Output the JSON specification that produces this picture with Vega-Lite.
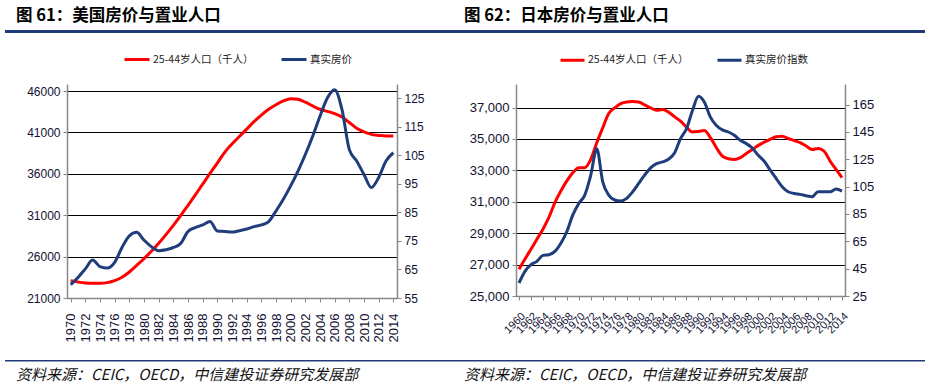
{
  "$schema": "https://vega.github.io/schema/vega-lite/v6.json",
  "padding": {"left": 5, "top": 7, "right": 0, "bottom": 0},
  "background": "white",
  "config": {
    "font": "Liberation Sans",
    "view": {"stroke": null},
    "axis": {"labelColor": "#111133", "domainColor": "#888888", "tickColor": "#888888", "domainWidth": 1.5, "title": null}
  },
  "datasets": {
    "us": [
      {"year": 1970, "pop": 23100, "price": 59.7}, {"year": 1971, "pop": 22930, "price": 62.2}, {"year": 1972, "pop": 22810, "price": 65.2},
      {"year": 1973, "pop": 22780, "price": 68.3}, {"year": 1974, "pop": 22780, "price": 66.0}, {"year": 1975, "pop": 22860, "price": 65.5},
      {"year": 1976, "pop": 23100, "price": 67.5}, {"year": 1977, "pop": 23500, "price": 72.7}, {"year": 1978, "pop": 24140, "price": 76.8},
      {"year": 1979, "pop": 24950, "price": 78.0}, {"year": 1980, "pop": 25760, "price": 75.3}, {"year": 1981, "pop": 26640, "price": 73.0},
      {"year": 1982, "pop": 27610, "price": 71.6}, {"year": 1983, "pop": 28660, "price": 71.9}, {"year": 1984, "pop": 29780, "price": 72.7},
      {"year": 1985, "pop": 30950, "price": 74.1}, {"year": 1986, "pop": 32200, "price": 78.3}, {"year": 1987, "pop": 33450, "price": 79.7},
      {"year": 1988, "pop": 34750, "price": 80.6}, {"year": 1989, "pop": 36050, "price": 81.8}, {"year": 1990, "pop": 37300, "price": 78.5},
      {"year": 1991, "pop": 38600, "price": 78.3}, {"year": 1992, "pop": 39600, "price": 78.1}, {"year": 1993, "pop": 40500, "price": 78.6},
      {"year": 1994, "pop": 41400, "price": 79.2}, {"year": 1995, "pop": 42300, "price": 80.0}, {"year": 1996, "pop": 43100, "price": 80.6},
      {"year": 1997, "pop": 43800, "price": 81.8}, {"year": 1998, "pop": 44350, "price": 85.5}, {"year": 1999, "pop": 44800, "price": 89.6},
      {"year": 2000, "pop": 45080, "price": 94.3}, {"year": 2001, "pop": 45000, "price": 99.5}, {"year": 2002, "pop": 44650, "price": 105.3},
      {"year": 2003, "pop": 44200, "price": 111.7}, {"year": 2004, "pop": 43800, "price": 118.7}, {"year": 2005, "pop": 43550, "price": 125.1},
      {"year": 2006, "pop": 43280, "price": 128.0}, {"year": 2007, "pop": 42870, "price": 121.0}, {"year": 2008, "pop": 42200, "price": 107.0},
      {"year": 2009, "pop": 41500, "price": 103.0}, {"year": 2010, "pop": 41070, "price": 98.3}, {"year": 2011, "pop": 40760, "price": 93.7},
      {"year": 2012, "pop": 40640, "price": 97.2}, {"year": 2013, "pop": 40560, "price": 103.0}, {"year": 2014, "pop": 40560, "price": 105.9}
    ],
    "jp": [
      {"year": 1960, "pop": 26710, "price": 34.5}, {"year": 1961, "pop": 27350, "price": 43.0}, {"year": 1962, "pop": 27980, "price": 47.9},
      {"year": 1963, "pop": 28620, "price": 50.3}, {"year": 1964, "pop": 29250, "price": 54.7}, {"year": 1965, "pop": 30000, "price": 55.2},
      {"year": 1966, "pop": 30950, "price": 57.6}, {"year": 1967, "pop": 31690, "price": 63.6}, {"year": 1968, "pop": 32330, "price": 72.1},
      {"year": 1969, "pop": 32850, "price": 84.3}, {"year": 1970, "pop": 33170, "price": 92.7}, {"year": 1971, "pop": 33170, "price": 98.8},
      {"year": 1972, "pop": 33700, "price": 113.4}, {"year": 1973, "pop": 34760, "price": 132.7}, {"year": 1974, "pop": 35710, "price": 108.5},
      {"year": 1975, "pop": 36620, "price": 98.8}, {"year": 1976, "pop": 36980, "price": 95.2}, {"year": 1977, "pop": 37250, "price": 94.4},
      {"year": 1978, "pop": 37360, "price": 96.4}, {"year": 1979, "pop": 37380, "price": 101.2}, {"year": 1980, "pop": 37360, "price": 107.3},
      {"year": 1981, "pop": 37170, "price": 113.4}, {"year": 1982, "pop": 36980, "price": 118.7}, {"year": 1983, "pop": 36830, "price": 121.8},
      {"year": 1984, "pop": 36870, "price": 123.0}, {"year": 1985, "pop": 36710, "price": 125.0}, {"year": 1986, "pop": 36420, "price": 129.5},
      {"year": 1987, "pop": 36140, "price": 140.0}, {"year": 1988, "pop": 35750, "price": 147.3}, {"year": 1989, "pop": 35440, "price": 160.6},
      {"year": 1990, "pop": 35480, "price": 171.0}, {"year": 1991, "pop": 35540, "price": 166.7}, {"year": 1992, "pop": 35080, "price": 155.8},
      {"year": 1993, "pop": 34440, "price": 149.7}, {"year": 1994, "pop": 33910, "price": 146.5}, {"year": 1995, "pop": 33740, "price": 144.9},
      {"year": 1996, "pop": 33700, "price": 142.5}, {"year": 1997, "pop": 33810, "price": 138.8}, {"year": 1998, "pop": 34080, "price": 136.4},
      {"year": 1999, "pop": 34330, "price": 133.2}, {"year": 2000, "pop": 34590, "price": 127.9}, {"year": 2001, "pop": 34800, "price": 123.5},
      {"year": 2002, "pop": 34970, "price": 117.0}, {"year": 2003, "pop": 35140, "price": 110.9}, {"year": 2004, "pop": 35180, "price": 104.9},
      {"year": 2005, "pop": 35030, "price": 101.2}, {"year": 2006, "pop": 34900, "price": 100.0}, {"year": 2007, "pop": 34760, "price": 99.3},
      {"year": 2008, "pop": 34550, "price": 98.3}, {"year": 2009, "pop": 34330, "price": 97.6}, {"year": 2010, "pop": 34400, "price": 101.2},
      {"year": 2011, "pop": 34230, "price": 101.2}, {"year": 2012, "pop": 33600, "price": 101.2}, {"year": 2013, "pop": 33060, "price": 103.2},
      {"year": 2014, "pop": 32540, "price": 101.7}
    ]
  },
  "spacing": 12,
  "vconcat": [
    {
      "spacing": 0,
      "hconcat": [
        {
          "width": 459, "height": 3,
          "view": {"fill": "#1F3B7A", "stroke": null},
          "data": {"values": []},
          "mark": "text",
          "title": {"text": "图 61：美国房价与置业人口", "anchor": "start", "dx": 11, "offset": 6, "font": "Noto Sans CJK SC", "fontSize": 16.5, "fontWeight": "bold", "color": "#000000"}
        },
        {
          "width": 461, "height": 3,
          "view": {"fill": "#1F3B7A", "stroke": null},
          "data": {"values": []},
          "mark": "text",
          "title": {"text": "图 62：日本房价与置业人口", "anchor": "start", "dx": 0, "offset": 6, "font": "Noto Sans CJK SC", "fontSize": 16.5, "fontWeight": "bold", "color": "#000000"}
        }
      ]
    },
    {
      "spacing": 20,
      "resolve": {"scale": {"color": "independent"}, "legend": {"color": "independent"}},
      "hconcat": [
        {
          "width": 1, "height": 1,
          "data": {"values": []},
          "mark": "text"
        },
        {
          "width": 330, "height": 214,
          "data": {"name": "us"},
          "encoding": {
            "x": {"field": "year", "type": "quantitative",
              "scale": {"domain": [1969.5, 2014.5], "nice": false, "zero": false},
              "axis": {"values": [1970,1972,1974,1976,1978,1980,1982,1984,1986,1988,1990,1992,1994,1996,1998,2000,2002,2004,2006,2008,2010,2012,2014],
                "format": "d", "labelAngle": -90, "labelFontSize": 13, "labelPadding": 11, "tickSize": 4, "grid": false, "labelOverlap": false, "labelFlush": false, "zindex": 1,
                "title": " ", "titleFontSize": 4, "titlePadding": 2}}
          },
          "layer": [
            {
              "mark": {"type": "line", "interpolate": "monotone", "strokeWidth": 3},
              "encoding": {
                "y": {"field": "pop", "type": "quantitative",
                  "scale": {"domain": [21000, 46850], "nice": false, "zero": false},
                  "axis": {"values": [21000,26000,31000,36000,41000,46000], "format": "d", "grid": true, "gridColor": "#000000", "gridWidth": 1.2, "tickSize": 4, "labelFontSize": 12, "labelPadding": 3}},
                "color": {"datum": "25-44岁人口（千人）", "type": "nominal",
                  "scale": {"domain": ["25-44岁人口（千人）", "真实房价"], "range": ["#FF0000", "#1F3D7A"]},
                  "legend": {"orient": "none", "legendX": 56, "legendY": -38.5, "direction": "horizontal", "title": null, "symbolType": "stroke", "symbolStrokeWidth": 3, "symbolSize": 625, "labelFontSize": 10.5, "labelFont": "Noto Sans CJK SC", "labelColor": "#222222", "columnPadding": 21, "labelOffset": 2}}
              }
            },
            {
              "mark": {"type": "line", "interpolate": "monotone", "strokeWidth": 3},
              "encoding": {
                "y": {"field": "price", "type": "quantitative",
                  "scale": {"domain": [55, 130], "nice": false, "zero": false},
                  "axis": {"orient": "right", "values": [55,65,75,85,95,105,115,125], "grid": false, "tickSize": 4, "labelFontSize": 12, "labelPadding": 3, "minExtent": 30, "maxExtent": 30}},
                "color": {"datum": "真实房价", "type": "nominal"}
              }
            }
          ],
          "resolve": {"scale": {"y": "independent"}}
        },
        {
          "width": 329, "height": 212,
          "data": {"name": "jp"},
          "encoding": {
            "x": {"field": "year", "type": "quantitative",
              "scale": {"domain": [1959.5, 2014.5], "nice": false, "zero": false},
              "axis": {"values": [1960,1962,1964,1966,1968,1970,1972,1974,1976,1978,1980,1982,1984,1986,1988,1990,1992,1994,1996,1998,2000,2002,2004,2006,2008,2010,2012,2014],
                "format": "d", "labelAngle": -45, "labelFontSize": 11, "labelPadding": 10, "tickSize": 4, "grid": false, "labelOverlap": false, "labelFlush": false, "zindex": 1}}
          },
          "layer": [
            {
              "mark": {"type": "line", "interpolate": "monotone", "strokeWidth": 3},
              "encoding": {
                "y": {"field": "pop", "type": "quantitative",
                  "scale": {"domain": [25000, 38500], "nice": false, "zero": false},
                  "axis": {"values": [25000,27000,29000,31000,33000,35000,37000], "format": ",d", "grid": true, "gridColor": "#000000", "gridWidth": 1.2, "tickSize": 4, "labelFontSize": 13, "labelPadding": 3, "minExtent": 69, "maxExtent": 69}},
                "color": {"datum": "25-44岁人口（千人）", "type": "nominal",
                  "scale": {"domain": ["25-44岁人口（千人）", "真实房价指数"], "range": ["#FF0000", "#1F3D7A"]},
                  "legend": {"orient": "none", "legendX": 43, "legendY": -37.5, "direction": "horizontal", "title": null, "symbolType": "stroke", "symbolStrokeWidth": 3, "symbolSize": 576, "labelFontSize": 10.5, "labelFont": "Noto Sans CJK SC", "labelColor": "#222222", "columnPadding": 22, "labelOffset": 2}}
              }
            },
            {
              "mark": {"type": "line", "interpolate": "monotone", "strokeWidth": 3},
              "encoding": {
                "y": {"field": "price", "type": "quantitative",
                  "scale": {"domain": [25, 180], "nice": false, "zero": false},
                  "axis": {"orient": "right", "values": [25,45,65,85,105,125,145,165], "grid": false, "tickSize": 4, "labelFontSize": 13, "labelPadding": 3}},
                "color": {"datum": "真实房价指数", "type": "nominal"}
              }
            }
          ],
          "resolve": {"scale": {"y": "independent"}}
        }
      ]
    },
    {
      "spacing": 0,
      "hconcat": [
        {
          "width": 459, "height": 1.5,
          "view": {"fill": "#1F3B7A", "stroke": null},
          "data": {"values": []},
          "mark": "text",
          "title": {"text": "资料来源：CEIC，OECD，中信建投证券研究发展部", "orient": "bottom", "anchor": "start", "dx": 11, "offset": 6, "font": "Noto Sans CJK SC", "fontSize": 15, "fontStyle": "italic", "fontWeight": "normal", "color": "#111111"}
        },
        {
          "width": 461, "height": 1.5,
          "view": {"fill": "#1F3B7A", "stroke": null},
          "data": {"values": []},
          "mark": "text",
          "title": {"text": "资料来源：CEIC，OECD，中信建投证券研究发展部", "orient": "bottom", "anchor": "start", "dx": 0, "offset": 6, "font": "Noto Sans CJK SC", "fontSize": 15, "fontStyle": "italic", "fontWeight": "normal", "color": "#111111"}
        }
      ]
    }
  ]
}
